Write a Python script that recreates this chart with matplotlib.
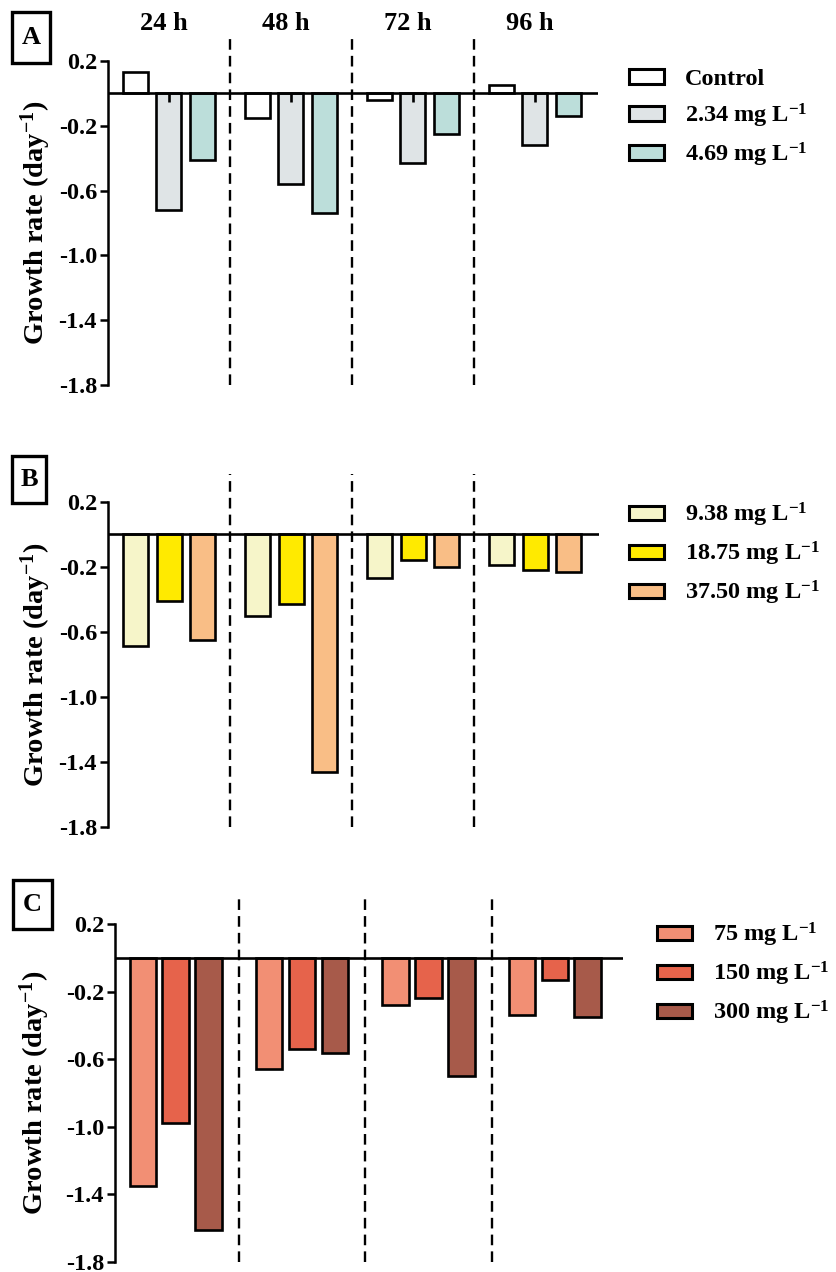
import matplotlib
matplotlib.use("Agg")
import matplotlib.pyplot as plt
import numpy as np
from matplotlib.patches import Patch, Rectangle

plt.rcParams['font.family'] = ['Liberation Serif', 'DejaVu Serif']
plt.rcParams['font.weight'] = 'bold'
plt.rcParams['mathtext.fontset'] = 'custom'
plt.rcParams['mathtext.rm'] = 'Liberation Serif:bold'
plt.rcParams['mathtext.it'] = 'Liberation Serif:bold'
plt.rcParams['mathtext.bf'] = 'Liberation Serif:bold'

# Data
times = ["24 h", "48 h", "72 h", "96 h"]
yticks = [0.2, -0.2, -0.6, -1.0, -1.4, -1.8]
ytick_labels = ["0.2", "-0.2", "-0.6", "-1.0", "-1.4", "-1.8"]

labels_a = ["Control", "2.34 mg L$^{-1}$", "4.69 mg L$^{-1}$"]
control = [0.13, -0.15, -0.04, 0.05]
c234 = [-0.72, -0.56, -0.43, -0.32]
c469 = [-0.41, -0.74, -0.25, -0.14]
c234_err = [0.055, 0.055, 0.055, 0.055]  # small marks inside the 2.34 bars

labels_b = ["9.38 mg L$^{-1}$", "18.75 mg L$^{-1}$", "37.50 mg L$^{-1}$"]
c938 = [-0.69, -0.50, -0.27, -0.19]
c1875 = [-0.41, -0.43, -0.16, -0.22]
c3750 = [-0.65, -1.46, -0.20, -0.23]

labels_c = ["75 mg L$^{-1}$", "150 mg L$^{-1}$", "300 mg L$^{-1}$"]
c75 = [-1.35, -0.66, -0.28, -0.34]
c150 = [-0.98, -0.54, -0.235, -0.13]
c300 = [-1.61, -0.56, -0.70, -0.35]

colors_a = ["#ffffff", "#dfe4e6", "#bcdeda"]
colors_b = ["#f6f5c9", "#ffea00", "#f9be86"]
colors_c = ["#f28f74", "#e6634b", "#a75a4a"]

W, H = 836, 1272
fig = plt.figure(figsize=(W / 100, H / 100), dpi=100)

# panel tag boxes in pixels: (left, top, right, bottom)
panels = [
    dict(rect=[0.1292, 0.6973, 0.586, 0.2547], xlim=(-0.5, 3.52), pitch=0.275, width=0.205,
         series=[control, c234, c469], colors=colors_a, labels=labels_a, tag="A",
         tagbox=(12, 12, 50, 63), legpos=(629 / W, 1 - 119 / H), ylab_x=-0.112),
    dict(rect=[0.1292, 0.3498, 0.587, 0.2558], xlim=(-0.5, 3.52), pitch=0.275, width=0.205,
         series=[c938, c1875, c3750], colors=colors_b, labels=labels_b, tag="B",
         tagbox=(12, 456, 46, 503), legpos=(629 / W, 1 - 554 / H), ylab_x=-0.112),
    dict(rect=[0.1376, 0.0081, 0.6077, 0.2652], xlim=(-0.48, 3.54), pitch=0.26, width=0.21,
         series=[c75, c150, c300], colors=colors_c, labels=labels_c, tag="C",
         tagbox=(13, 880, 52, 929), legpos=(657 / W, 1 - 974 / H), ylab_x=-0.125),
]

x = np.arange(len(times))

for k, p in enumerate(panels):
    ax = fig.add_axes(p["rect"])
    for j, (vals, col) in enumerate(zip(p["series"], p["colors"])):
        ax.bar(x + (j - 1) * p["pitch"], vals, width=p["width"], color=col,
               edgecolor="black", linewidth=1.9, zorder=3)
    if k == 0:
        ax.vlines(x, -np.array(c234_err), 0, color="black", linewidth=1.9, zorder=4)
        for i, t in enumerate(times):
            ax.text(i - 0.04, 0.43, t, ha="center", va="center", fontsize=19,
                    fontweight="bold", clip_on=False)
    ax.axhline(0, color="black", linewidth=1.9, zorder=5)
    for d in [0.5, 1.5, 2.5]:
        ax.plot([d, d], [-1.8, 0.37], color="black", linewidth=1.7,
                linestyle=(0, (4.5, 2.6)), clip_on=False, zorder=2)
    ax.set_xlim(*p["xlim"])
    ax.set_ylim(-1.8, 0.2)
    ax.set_yticks(yticks)
    ax.set_yticklabels(ytick_labels)
    ax.set_xticks([])
    for s in ["top", "right", "bottom"]:
        ax.spines[s].set_visible(False)
    ax.spines["left"].set_linewidth(1.8)
    ax.tick_params(axis="y", direction="out", length=6, width=1.8, labelsize=17.5, pad=2)
    for lab in ax.get_yticklabels():
        lab.set_fontweight("bold")
    ax.set_ylabel("Growth rate (day$^{-1}$)", fontsize=20.5, fontweight="bold")
    ax.yaxis.set_label_coords(p["ylab_x"], 0.5)

    handles = [Patch(facecolor=c, edgecolor="black", linewidth=2.2) for c in p["colors"]]
    fig.legend(handles, p["labels"], loc="center left", bbox_to_anchor=p["legpos"],
               frameon=False, handlelength=1.45, handleheight=0.55,
               labelspacing=0.45, handletextpad=0.85, borderaxespad=0, borderpad=0,
               prop={"weight": "bold", "size": 17.5})

    l, t, r, b = p["tagbox"]
    fig.patches.append(Rectangle((l / W, 1 - b / H), (r - l) / W, (b - t) / H,
                                 transform=fig.transFigure, facecolor="white",
                                 edgecolor="black", linewidth=2.4))
    fig.text((l + r) / 2 / W, 1 - (t + b) / 2 / H, p["tag"], fontsize=19,
             fontweight="bold", ha="center", va="center")

plt.savefig("out.png", dpi=100)
